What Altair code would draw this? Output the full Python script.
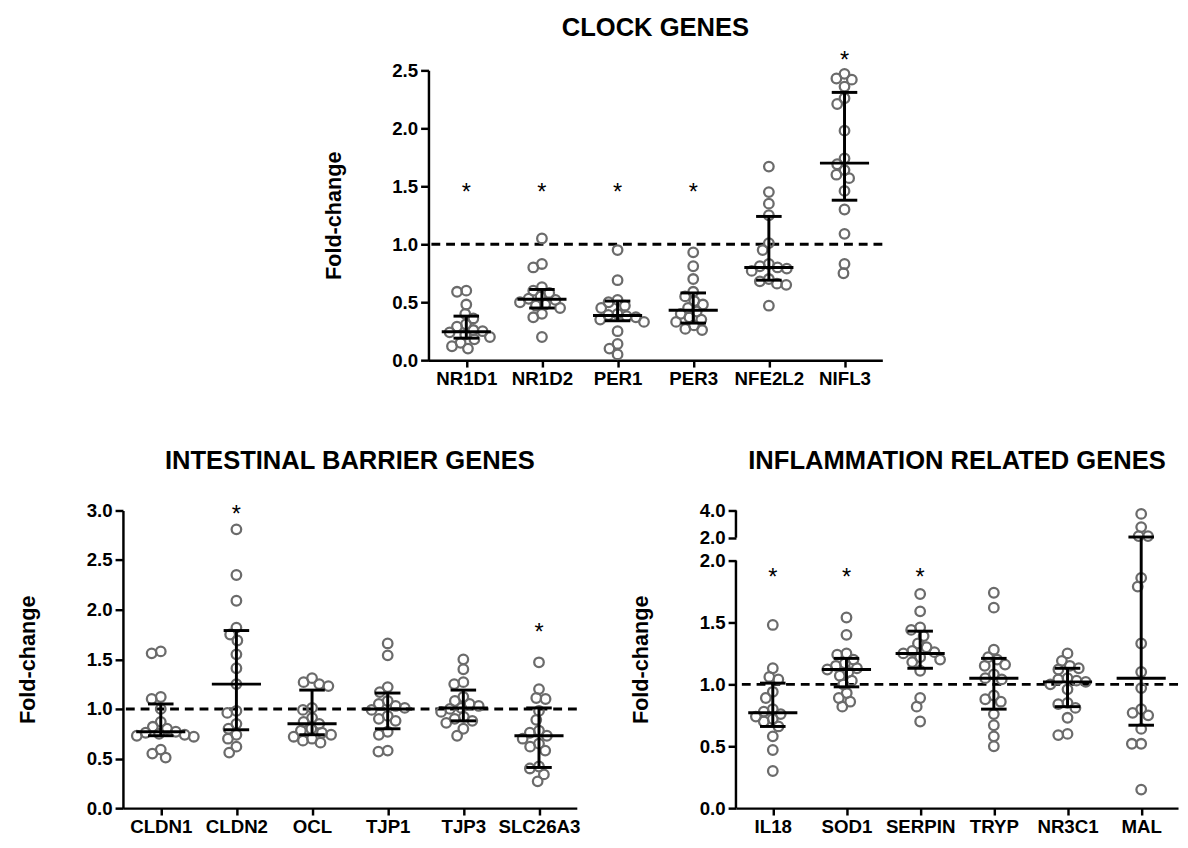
import math
import altair as alt
import pandas as pd

FONT = "Liberation Sans"

# ---------------- data ----------------
clock_genes = ["NR1D1", "NR1D2", "PER1", "PER3", "NFE2L2", "NIFL3"]
clock_values = [
    [0.60, 0.59, 0.48, 0.40, 0.36, 0.31, 0.29, 0.26, 0.25, 0.24, 0.22, 0.20, 0.18, 0.15, 0.12, 0.10],
    [1.05, 0.83, 0.80, 0.63, 0.60, 0.58, 0.55, 0.53, 0.52, 0.50, 0.48, 0.47, 0.45, 0.40, 0.37, 0.20],
    [0.95, 0.69, 0.52, 0.50, 0.47, 0.45, 0.40, 0.39, 0.38, 0.37, 0.35, 0.33, 0.25, 0.14, 0.10, 0.05],
    [0.93, 0.81, 0.70, 0.59, 0.55, 0.51, 0.48, 0.45, 0.42, 0.40, 0.37, 0.35, 0.33, 0.30, 0.27, 0.26],
    [1.67, 1.45, 1.35, 1.25, 1.01, 0.95, 0.83, 0.81, 0.80, 0.79, 0.77, 0.70, 0.68, 0.66, 0.65, 0.47],
    [2.47, 2.43, 2.42, 2.36, 2.26, 2.21, 1.98, 1.74, 1.69, 1.64, 1.60, 1.57, 1.46, 1.30, 1.09, 0.83, 0.75],
]
clock_median = [0.245, 0.525, 0.385, 0.43, 0.80, 1.70]
clock_low = [0.19, 0.45, 0.34, 0.32, 0.69, 1.38]
clock_high = [0.38, 0.61, 0.51, 0.58, 1.24, 2.31]
clock_star = [1.5, 1.5, 1.5, 1.5, None, 2.64]

barrier_genes = ["CLDN1", "CLDN2", "OCL", "TJP1", "TJP3", "SLC26A3"]
barrier_values = [
    [1.58, 1.56, 1.12, 1.10, 1.00, 0.87, 0.82, 0.80, 0.77, 0.76, 0.75, 0.74, 0.73, 0.72, 0.59, 0.55, 0.51],
    [2.81, 2.35, 2.09, 1.82, 1.75, 1.69, 1.55, 1.41, 1.25, 0.98, 0.96, 0.85, 0.80, 0.74, 0.70, 0.62, 0.56],
    [1.31, 1.27, 1.25, 1.23, 1.01, 0.99, 0.91, 0.87, 0.85, 0.80, 0.78, 0.76, 0.74, 0.72, 0.70, 0.68, 0.66],
    [1.66, 1.54, 1.22, 1.17, 1.08, 1.05, 1.03, 1.01, 0.99, 0.93, 0.90, 0.88, 0.77, 0.74, 0.58, 0.57],
    [1.50, 1.40, 1.27, 1.25, 1.12, 1.08, 1.05, 1.03, 1.01, 1.00, 0.97, 0.92, 0.90, 0.88, 0.86, 0.80, 0.73],
    [1.47, 1.20, 1.11, 1.10, 0.98, 0.89, 0.78, 0.76, 0.73, 0.70, 0.65, 0.62, 0.58, 0.42, 0.40, 0.34, 0.27],
]
barrier_median = [0.77, 1.25, 0.85, 1.00, 1.01, 0.73]
barrier_low = [0.73, 0.79, 0.74, 0.80, 0.88, 0.41]
barrier_high = [1.05, 1.79, 1.19, 1.16, 1.19, 1.01]
barrier_star = [None, 3.02, None, None, None, 1.83]

infl_genes = ["IL18", "SOD1", "SERPIN", "TRYP", "NR3C1", "MAL"]
infl_values = [
    [1.48, 1.13, 1.06, 1.04, 0.94, 0.89, 0.80, 0.78, 0.76, 0.74, 0.72, 0.70, 0.66, 0.58, 0.47, 0.30],
    [1.54, 1.40, 1.25, 1.24, 1.20, 1.17, 1.15, 1.13, 1.12, 1.10, 1.07, 1.03, 1.00, 0.93, 0.89, 0.86, 0.82],
    [1.73, 1.59, 1.46, 1.44, 1.39, 1.33, 1.30, 1.27, 1.26, 1.25, 1.22, 1.20, 1.18, 1.11, 0.89, 0.82, 0.70],
    [1.74, 1.62, 1.28, 1.22, 1.20, 1.16, 1.15, 1.08, 1.05, 1.04, 0.91, 0.88, 0.86, 0.76, 0.67, 0.58, 0.50],
    [1.25, 1.19, 1.15, 1.13, 1.12, 1.05, 1.04, 1.03, 1.02, 1.00, 0.96, 0.85, 0.84, 0.81, 0.73, 0.60, 0.59],
    [3.75, 2.78, 2.12, 2.12, 1.86, 1.79, 1.33, 1.10, 0.97, 0.80, 0.77, 0.75, 0.64, 0.52, 0.52, 0.15],
]
infl_median = [0.77, 1.12, 1.25, 1.05, 1.02, 1.05]
infl_low = [0.66, 0.98, 1.13, 0.80, 0.82, 0.67]
infl_high = [1.01, 1.21, 1.43, 1.21, 1.13, 2.05]
infl_star = [1.91, 1.91, 1.91, None, None, None]

# ---------------- styling ----------------
POINT_COLOR = "#6b6b6b"
MARK_D = 9.5         # beeswarm spacing in px (circles may overlap a little)
MED_HALF = 25.0      # half width of median line, px
CAP_HALF = 13.0      # half width of whisker caps, px
LABEL_SIZE = 19


def swarm(vals, to_px, d=MARK_D):
    placed, out = [], []
    for v in vals:
        y = to_px(v)
        cands = [0.0]
        for (px, py) in placed:
            dy = abs(y - py)
            if dy < d:
                dx = math.sqrt(d * d - dy * dy)
                cands += [px + dx, px - dx]
        ok = [c for c in cands
              if all((c - px) ** 2 + (y - py) ** 2 >= d * d - 1e-6 for px, py in placed)]
        best = min(ok, key=lambda c: (abs(c), c))
        placed.append((best, y))
        out.append(best)
    return out


def panel(title, genes, values, med, lo, hi, star, W, H, yscale, ticks, to_px,
          broken=False, title_offset=28):
    band = W / len(genes)
    rows = []
    for i, vals in enumerate(values):
        offs = swarm(vals, to_px)
        for v, o in zip(vals, offs):
            rows.append({"idx": i, "value": v, "xpos": i + o / band})
    pts = pd.DataFrame(rows)
    summ = pd.DataFrame({
        "idx": list(range(len(genes))),
        "med": med, "lo": lo, "hi": hi,
        "mx": [i - MED_HALF / band for i in range(len(genes))],
        "mx2": [i + MED_HALF / band for i in range(len(genes))],
        "cx": [i - CAP_HALF / band for i in range(len(genes))],
        "cx2": [i + CAP_HALF / band for i in range(len(genes))],
    })
    stars = pd.DataFrame({"idx": list(range(len(genes))), "star": star}).dropna()

    label_expr = "[" + ",".join("'%s'" % g for g in genes) + "][datum.value]"
    xscale = alt.Scale(domain=[-0.5, len(genes) - 0.5], nice=False, zero=False)
    xaxis = alt.Axis(values=list(range(len(genes))), labelExpr=label_expr, title=None,
                     grid=False, labelOverlap=False, labelFlush=False, labelBound=False,
                     tickSize=7, tickWidth=2.5, domainWidth=2.5, domainColor="black",
                     tickColor="black", labelFont=FONT, labelFontWeight="bold",
                     labelFontSize=LABEL_SIZE, labelColor="black", labelPadding=3)
    yaxis = alt.Axis(values=ticks, format=".1f", title="Fold-change", grid=False,
                     domain=not broken, tickSize=8, tickWidth=2.5, domainWidth=2.5,
                     domainColor="black", tickColor="black", labelFont=FONT,
                     labelFontWeight="bold", labelFontSize=LABEL_SIZE, labelColor="black",
                     labelPadding=3, labelOverlap=False, labelFlush=False,
                     titleFont=FONT, titleFontWeight="bold", titleFontSize=22,
                     titleColor="black", titleX=-85, titleY=H / 2, titleAngle=270,
                     titleBaseline="bottom", titleAlign="center")

    def X(f):
        return alt.X(f, type="quantitative", scale=xscale, axis=xaxis)

    def Y(f):
        return alt.Y(f, type="quantitative", scale=yscale, axis=yaxis)

    ref = alt.Chart(pd.DataFrame({"y": [1.0]})).mark_rule(
        color="black", strokeWidth=3, strokeDash=[9, 6]).encode(y=Y("y"))
    points = alt.Chart(pts).mark_point(
        shape="circle", filled=False, size=95, strokeWidth=2.3, color=POINT_COLOR,
        opacity=1).encode(x=X("xpos"), y=Y("value"))
    base = alt.Chart(summ)
    whisk = base.mark_rule(color="black", strokeWidth=3).encode(
        x=X("idx"), y=Y("lo"), y2="hi")
    cap_lo = base.mark_rule(color="black", strokeWidth=3).encode(
        x=X("cx"), x2="cx2", y=Y("lo"))
    cap_hi = base.mark_rule(color="black", strokeWidth=3).encode(
        x=X("cx"), x2="cx2", y=Y("hi"))
    median = base.mark_rule(color="black", strokeWidth=3).encode(
        x=X("mx"), x2="mx2", y=Y("med"))
    st = alt.Chart(stars).mark_text(
        text="*", font=FONT, fontSize=24, color="black", baseline="alphabetic", dy=14
    ).encode(x=X("idx"), y=Y("star"))
    layers = [ref, points, whisk, cap_lo, cap_hi, median, st]
    if broken:
        seg = pd.DataFrame({"s": [0.0, 2.0001], "e": [2.0, 4.0]})
        axis_line = alt.Chart(seg).mark_rule(color="black", strokeWidth=2.5).encode(
            x=alt.value(0), y=Y("s"), y2="e")
        layers.append(axis_line)
    return alt.layer(*layers).properties(
        width=W, height=H,
        title=alt.TitleParams(title, font=FONT, fontSize=26, fontWeight="bold",
                              color="black", anchor="middle", offset=title_offset))


# top panel
TW, TH = 462, 295
top = panel("CLOCK GENES", clock_genes, clock_values, clock_median, clock_low,
            clock_high, clock_star, TW, TH,
            alt.Scale(domain=[0, 2.5], nice=False, zero=True),
            [0, 0.5, 1.0, 1.5, 2.0, 2.5], lambda v: v * TH / 2.5, title_offset=8)

# bottom left
LW, LH = 462, 303
left = panel("INTESTINAL BARRIER GENES", barrier_genes, barrier_values, barrier_median,
             barrier_low, barrier_high, barrier_star, LW, LH,
             alt.Scale(domain=[0, 3.0], nice=False, zero=True),
             [0, 0.5, 1.0, 1.5, 2.0, 2.5, 3.0], lambda v: v * LH / 3.0, title_offset=28)

# bottom right (broken axis)
RW, RH = 450, 303
R_LOW = 252.0   # px for 0..2
R_GAP = 23.3    # px of the break


def right_px(v):
    if v <= 2.0:
        return v * R_LOW / 2.0
    return R_LOW + R_GAP + (v - 2.0) * (RH - R_LOW - R_GAP) / 2.0


right = panel("INFLAMMATION RELATED GENES", infl_genes, infl_values, infl_median,
              infl_low, infl_high, infl_star, RW, RH,
              alt.Scale(domain=[0, 2.0, 2.0001, 4.0],
                        range=[RH, RH - R_LOW, RH - R_LOW - R_GAP, 0], nice=False),
              [0, 0.5, 1.0, 1.5, 2.0, 2.0001, 4.0], right_px, broken=True, title_offset=28)

spacer = alt.Chart(pd.DataFrame({"a": [0]})).mark_point(opacity=0).encode(
    x=alt.X("a:Q", axis=None), y=alt.Y("a:Q", axis=None)).properties(width=203, height=TH)

top_row = alt.hconcat(spacer, top, spacing=0)
bottom_row = alt.hconcat(left, right, spacing=50)
chart = alt.vconcat(top_row, bottom_row, spacing=61).properties(
    padding={"left": 9, "top": 0, "right": 0, "bottom": 0}
).configure_view(stroke=None)

chart.save("out.html", embed_options={"renderer": "svg", "actions": False})
